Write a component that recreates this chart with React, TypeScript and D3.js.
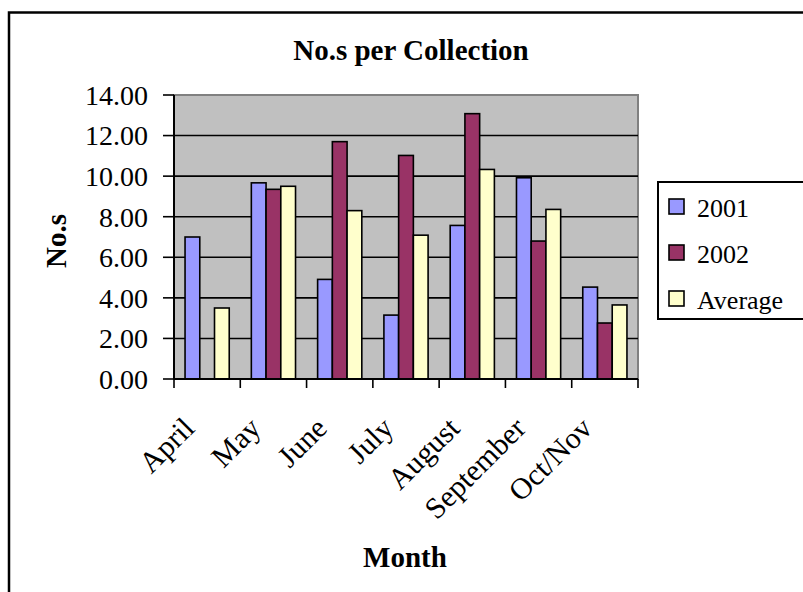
import * as d3 from "d3";

const months = ["April", "May", "June", "July", "August", "September", "Oct/Nov"];
const s2001 = [7.0, 9.67, 4.91, 3.15, 7.57, 9.92, 4.53];
const s2002 = [0, 9.35, 11.7, 11.02, 13.08, 6.8, 2.76];
const sAvg = [3.5, 9.5, 8.3, 7.09, 10.33, 8.36, 3.65];
const seriesNames = ["2001", "2002", "Average"];
const seriesColors = ["#9999FF", "#993366", "#FFFFCC"];
const yTicks = [0, 2, 4, 6, 8, 10, 12, 14];

const FONT = "'Liberation Serif', 'Times New Roman', serif";

export default function App() {
  const W = 803, H = 592;
  const plot = { left: 174, right: 638, top: 95, bottom: 379 };
  const x0 = d3.scaleBand<string>().domain(months).range([plot.left, plot.right]).padding(0);
  const bw = x0.bandwidth();
  const x1 = d3.scaleBand<string>().domain(seriesNames).range([bw / 6, (bw * 5) / 6]).padding(0);
  const y = d3.scaleLinear().domain([0, 14]).range([plot.bottom, plot.top]);
  const series = [s2001, s2002, sAvg];

  return (
    <svg width={W} height={H} style={{ position: "absolute", left: 0, top: 0, background: "#fff" }} fontFamily={FONT}>
      {/* outer chart frame, runs off the right/bottom like the source */}
      <rect x={9} y={12.5} width={W + 20} height={H + 20} fill="#fff" stroke="#000" strokeWidth={2.5} />

      <text x={411} y={60} textAnchor="middle" fontSize={29} fontWeight="bold">No.s per Collection</text>

      {/* plot area */}
      <rect x={plot.left} y={plot.top} width={plot.right - plot.left} height={plot.bottom - plot.top} fill="#C0C0C0" stroke="#808080" strokeWidth={2} />
      {yTicks.map((t) => (
        <g key={`y${t}`}>
          {t > 0 && t < 14 && <line x1={plot.left} x2={plot.right} y1={y(t)} y2={y(t)} stroke="#000" strokeWidth={1.6} />}
          <line x1={plot.left - 11} x2={plot.left} y1={y(t)} y2={y(t)} stroke="#000" strokeWidth={1.6} />
          <text x={148} y={y(t)} dy="0.35em" textAnchor="end" fontSize={28}>{t.toFixed(2)}</text>
        </g>
      ))}

      {months.map((m, i) => (
        <g key={m} transform={`translate(${x0(m)},0)`}>
          {series.map((s, k) =>
            s[i] > 0 ? (
              <rect key={k} x={x1(seriesNames[k])} y={y(s[i])} width={x1.bandwidth()} height={y(0) - y(s[i])} fill={seriesColors[k]} stroke="#000" strokeWidth={1.6} />
            ) : null
          )}
        </g>
      ))}

      {/* axes */}
      <line x1={plot.left} x2={plot.left} y1={plot.top} y2={plot.bottom} stroke="#000" strokeWidth={2} />
      <line x1={plot.left} x2={plot.right} y1={plot.bottom} y2={plot.bottom} stroke="#000" strokeWidth={2} />
      {[...months.map((m) => x0(m) as number), plot.right].map((v, i) => (
        <line key={`xt${i}`} x1={v} x2={v} y1={plot.bottom} y2={plot.bottom + 9} stroke="#000" strokeWidth={1.6} />
      ))}
      {months.map((m) => {
        const cx = (x0(m) as number) + bw / 2 - 11;
        return (
          <text key={`xl${m}`} transform={`translate(${cx},${430}) rotate(-45)`} textAnchor="end" fontSize={30}>{m}</text>
        );
      })}

      <text x={405} y={567} textAnchor="middle" fontSize={29} fontWeight="bold">Month</text>
      <text transform={`translate(66,241) rotate(-90)`} textAnchor="middle" fontSize={29} fontWeight="bold">No.s</text>

      {/* legend */}
      <rect x={658} y={182} width={200} height={137} fill="#fff" stroke="#000" strokeWidth={2} />
      {seriesNames.map((n, k) => (
        <g key={n} transform={`translate(669,${199 + k * 46})`}>
          <rect x={0} y={0} width={15} height={15} fill={seriesColors[k]} stroke="#000" strokeWidth={1.6} />
          <text x={28} y={18} fontSize={26}>{n}</text>
        </g>
      ))}
    </svg>
  );
}
